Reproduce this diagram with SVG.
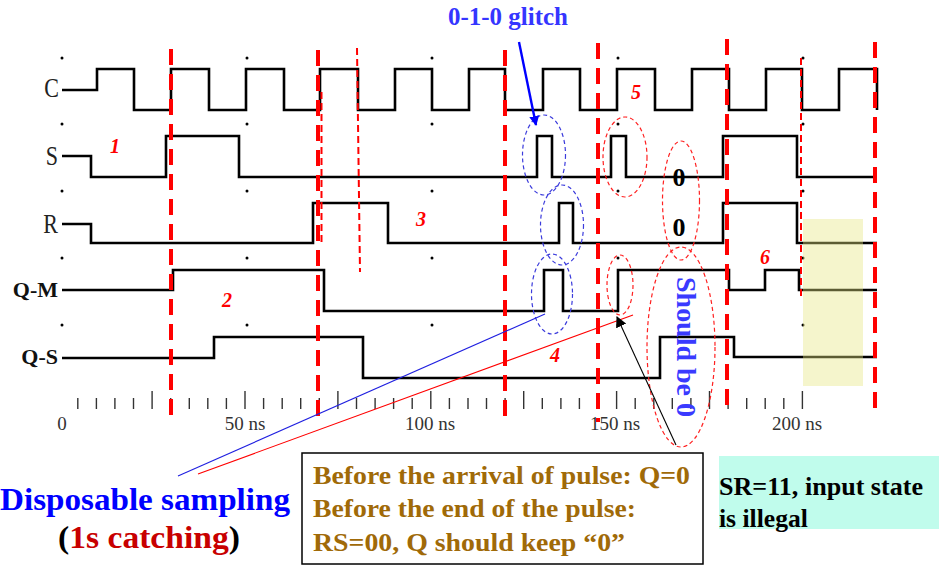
<svg xmlns="http://www.w3.org/2000/svg" width="946" height="576" viewBox="0 0 946 576">
<defs>
<style>
.sig{fill:none;stroke:#000;stroke-width:2.6;stroke-linejoin:miter}
.lbl{font-family:"Liberation Serif",serif;font-size:22px;fill:#222}
.lblb{font-family:"Liberation Serif",serif;font-size:22px;font-weight:bold;fill:#111}
.ax{font-family:"Liberation Serif",serif;font-size:19px;fill:#333;text-anchor:middle}
.num{font-family:"Liberation Serif",serif;font-size:20px;font-weight:bold;font-style:italic;fill:#ff0000;text-anchor:middle}
.vthick{stroke:#ff0000;stroke-width:4;stroke-dasharray:16 9;fill:none}
.vthin{stroke:#ff0000;stroke-width:2;stroke-dasharray:7 4;fill:none}
.eb{fill:none;stroke:#3c3cdc;stroke-width:1.2;stroke-dasharray:4 3}
.er{fill:none;stroke:#ff2020;stroke-width:1.2;stroke-dasharray:4 3}
.tick{stroke:#333;stroke-width:1.4}
.dot{fill:#000}
.box{font-family:"Liberation Serif",serif;font-size:26px;font-weight:bold;fill:#a06a08}
.big{font-family:"Liberation Serif",serif;font-size:31px;font-weight:bold}
</style>
<marker id="ahb" viewBox="0 0 10 10" refX="9" refY="5" markerWidth="10" markerHeight="10" markerUnits="userSpaceOnUse" orient="auto">
<path d="M0,0 L10,5 L0,10 z" fill="#0000ff"/>
</marker>
<marker id="ahk" viewBox="0 0 10 10" refX="9" refY="5" markerWidth="11" markerHeight="11" markerUnits="userSpaceOnUse" orient="auto">
<path d="M0,0 L10,5 L0,10 z" fill="#000"/>
</marker>
</defs>
<rect width="946" height="576" fill="#fff"/>

<g id="grid-dots" class="dot">
<circle cx="62" cy="58" r="1.5"/><circle cx="247" cy="58" r="1.5"/><circle cx="432" cy="58" r="1.5"/><circle cx="618" cy="58" r="1.5"/><circle cx="803" cy="58" r="1.5"/>
<circle cx="62" cy="124" r="1.5"/><circle cx="247" cy="124" r="1.5"/><circle cx="432" cy="124" r="1.5"/><circle cx="618" cy="124" r="1.5"/><circle cx="803" cy="124" r="1.5"/>
<circle cx="62" cy="191" r="1.5"/><circle cx="247" cy="191" r="1.5"/><circle cx="432" cy="191" r="1.5"/><circle cx="618" cy="191" r="1.5"/><circle cx="803" cy="191" r="1.5"/>
<circle cx="62" cy="258" r="1.5"/><circle cx="247" cy="258" r="1.5"/><circle cx="432" cy="258" r="1.5"/><circle cx="618" cy="258" r="1.5"/><circle cx="803" cy="258" r="1.5"/>
<circle cx="62" cy="325" r="1.5"/><circle cx="247" cy="325" r="1.5"/><circle cx="432" cy="325" r="1.5"/><circle cx="618" cy="325" r="1.5"/><circle cx="803" cy="325" r="1.5"/>
</g>

<g id="signal-labels">
<text class="lbl" text-anchor="end" transform="translate(59,97) scale(1,1.2)">C</text>
<text class="lbl" text-anchor="end" transform="translate(58,165) scale(1,1.2)">S</text>
<text class="lbl" text-anchor="end" transform="translate(58,233) scale(1,1.2)">R</text>
<text class="lblb" text-anchor="end" x="58" y="297">Q-M</text>
<text class="lblb" text-anchor="end" x="58" y="364">Q-S</text>
</g>

<g id="wave-C"><path class="sig" d="M62,90 H97 V69 H134 V110 H171 V69 H209 V110 H246 V69 H284 V110 H320 V69 H358 V110 H395 V69 H432 V110 H469 V69 H505 V110 H543 V69 H580 V110 H617 V69 H655 V110 H692 V69 H729 V110 H766 V69 H802 V110 H839 V69 H877 V110"/></g>
<g id="wave-S"><path class="sig" d="M62,156 H91 V177 H166 V136 H239 V177 H537 V136 H552 V177 H611 V136 H626 V177 H723 V136 H797 V177 H877"/></g>
<g id="wave-R"><path class="sig" d="M62,224 H91 V243 H313 V203 H388 V243 H559 V203 H573 V243 H723 V203 H797 V243 H877"/></g>
<g id="wave-QM"><path class="sig" d="M62,290 H173 V270 H324 V311 H544 V270 H563 V311 H618 V270 H729 V290 H765 V270 H799 V290 H877"/></g>
<g id="wave-QS"><path class="sig" d="M62,358 H214 V337 H363 V378 H660 V337 H734 V357 H877"/></g>

<g id="axis">
<g class="tick">
<line x1="77.8" y1="398" x2="77.8" y2="409"/><line x1="96.4" y1="398" x2="96.4" y2="409"/><line x1="114.9" y1="398" x2="114.9" y2="409"/><line x1="133.5" y1="398" x2="133.5" y2="409"/><line x1="152.1" y1="391" x2="152.1" y2="409"/>
<line x1="170.7" y1="398" x2="170.7" y2="409"/><line x1="189.3" y1="398" x2="189.3" y2="409"/><line x1="207.8" y1="398" x2="207.8" y2="409"/><line x1="226.4" y1="398" x2="226.4" y2="409"/><line x1="245" y1="391" x2="245" y2="409"/>
<line x1="263.6" y1="398" x2="263.6" y2="409"/><line x1="282.2" y1="398" x2="282.2" y2="409"/><line x1="300.7" y1="398" x2="300.7" y2="409"/><line x1="319.3" y1="398" x2="319.3" y2="409"/><line x1="337.9" y1="391" x2="337.9" y2="409"/>
<line x1="356.5" y1="398" x2="356.5" y2="409"/><line x1="375.1" y1="398" x2="375.1" y2="409"/><line x1="393.6" y1="398" x2="393.6" y2="409"/><line x1="412.2" y1="398" x2="412.2" y2="409"/><line x1="430.8" y1="391" x2="430.8" y2="409"/>
<line x1="449.4" y1="398" x2="449.4" y2="409"/><line x1="468" y1="398" x2="468" y2="409"/><line x1="486.5" y1="398" x2="486.5" y2="409"/><line x1="505.1" y1="398" x2="505.1" y2="409"/><line x1="523.7" y1="391" x2="523.7" y2="409"/>
<line x1="542.3" y1="398" x2="542.3" y2="409"/><line x1="560.9" y1="398" x2="560.9" y2="409"/><line x1="579.4" y1="398" x2="579.4" y2="409"/><line x1="598" y1="398" x2="598" y2="409"/><line x1="616.6" y1="391" x2="616.6" y2="409"/>
<line x1="635.2" y1="398" x2="635.2" y2="409"/><line x1="653.8" y1="398" x2="653.8" y2="409"/><line x1="672.3" y1="398" x2="672.3" y2="409"/><line x1="690.9" y1="398" x2="690.9" y2="409"/><line x1="709.5" y1="391" x2="709.5" y2="409"/>
<line x1="728.1" y1="398" x2="728.1" y2="409"/><line x1="746.7" y1="398" x2="746.7" y2="409"/><line x1="765.2" y1="398" x2="765.2" y2="409"/><line x1="783.8" y1="398" x2="783.8" y2="409"/><line x1="802.4" y1="391" x2="802.4" y2="409"/>
</g>
<text class="ax" x="62" y="430">0</text>
<text class="ax" x="245" y="430">50 ns</text>
<text class="ax" x="430" y="430">100 ns</text>
<text class="ax" x="615" y="430">150 ns</text>
<text class="ax" x="797" y="430">200 ns</text>
</g>

<g id="highlight-illegal">
<rect x="803" y="219" width="60" height="167" fill="#e6e680" fill-opacity="0.4"/>
</g>

<g id="time-markers">
<line class="vthick" x1="171" y1="49" x2="171" y2="417"/>
<line class="vthick" x1="318" y1="50" x2="318" y2="418"/>
<line class="vthick" x1="505" y1="50" x2="505" y2="418"/>
<line class="vthick" x1="598" y1="43" x2="598" y2="422"/>
<line class="vthick" x1="727" y1="39" x2="727" y2="408"/>
<line class="vthick" x1="875" y1="42" x2="875" y2="410"/>
<line class="vthin" x1="357" y1="48" x2="360" y2="272"/>
<line class="vthin" x1="321.5" y1="92" x2="321.5" y2="245" stroke-dasharray="5 3" stroke-width="1.5"/>
<line class="vthin" x1="801" y1="58" x2="801" y2="300"/>
</g>

<g id="ellipses">
<ellipse class="eb" cx="544" cy="155" rx="21.5" ry="40"/>
<ellipse class="eb" cx="562" cy="225" rx="21.5" ry="40"/>
<ellipse class="eb" cx="552" cy="294" rx="20.5" ry="40"/>
<ellipse class="er" cx="625" cy="157" rx="22" ry="40"/>
<ellipse class="er" cx="681" cy="200.5" rx="18.5" ry="59.5"/>
<ellipse class="er" cx="620" cy="285" rx="13" ry="30"/>
<ellipse class="er" cx="681" cy="347" rx="34" ry="100"/>
</g>

<g id="step-numbers">
<text class="num" x="115" y="153">1</text>
<text class="num" x="227" y="307">2</text>
<text class="num" x="421" y="226">3</text>
<text class="num" x="555" y="362">4</text>
<text class="num" x="636" y="99">5</text>
<text class="num" x="765" y="264">6</text>
</g>

<g id="zero-labels">
<text x="679" y="186" font-family="Liberation Serif,serif" font-size="26" font-weight="bold" text-anchor="middle" fill="#000">0</text>
<text x="679" y="236" font-family="Liberation Serif,serif" font-size="26" font-weight="bold" text-anchor="middle" fill="#000">0</text>
</g>

<g id="should-be-0">
<text transform="translate(677,277) rotate(90)" font-family="Liberation Serif,serif" font-size="27" font-weight="bold" fill="#3a3aff" textLength="140" lengthAdjust="spacingAndGlyphs">Should be 0</text>
</g>

<g id="glitch-label">
<text x="448" y="25" font-family="Liberation Serif,serif" font-size="25" font-weight="bold" fill="#3535ff" textLength="120" lengthAdjust="spacingAndGlyphs">0-1-0 glitch</text>
</g>

<g id="connectors">
<line x1="519" y1="42" x2="536" y2="125" stroke="#0000ff" stroke-width="2.4" marker-end="url(#ahb)"/>
<line x1="178" y1="476" x2="545" y2="314" stroke="#2020e0" stroke-width="1.1"/>
<line x1="198" y1="474" x2="633" y2="315" stroke="#ff0000" stroke-width="1.1"/>
<line x1="676" y1="445" x2="617" y2="317" stroke="#000" stroke-width="1.1" marker-end="url(#ahk)"/>
</g>

<g id="disposable-label">
<text class="big" x="0" y="510" fill="#0000ff" textLength="290" lengthAdjust="spacingAndGlyphs">Disposable sampling</text>
<text class="big" x="58" y="548" fill="#000" textLength="182" lengthAdjust="spacingAndGlyphs">(<tspan fill="#c80000">1s catching</tspan>)</text>
</g>

<g id="note-box">
<rect x="302" y="453" width="401" height="111" fill="#fff" stroke="#000" stroke-width="1.5"/>
<text class="box" x="313" y="484" textLength="377" lengthAdjust="spacingAndGlyphs">Before the arrival of pulse: Q=0</text>
<text class="box" x="313" y="517" textLength="323" lengthAdjust="spacingAndGlyphs">Before the end of the pulse:</text>
<text class="box" x="313" y="551" textLength="312" lengthAdjust="spacingAndGlyphs">RS=00, Q should keep “0”</text>
</g>

<g id="illegal-box">
<rect x="719" y="456" width="220" height="73" fill="#c0fcec"/>
<text x="719" y="495" font-family="Liberation Serif,serif" font-size="25" font-weight="bold" fill="#000" textLength="204" lengthAdjust="spacingAndGlyphs">SR=11, input state</text>
<text x="719" y="527" font-family="Liberation Serif,serif" font-size="25" font-weight="bold" fill="#000" textLength="89" lengthAdjust="spacingAndGlyphs">is illegal</text>
</g>
</svg>
